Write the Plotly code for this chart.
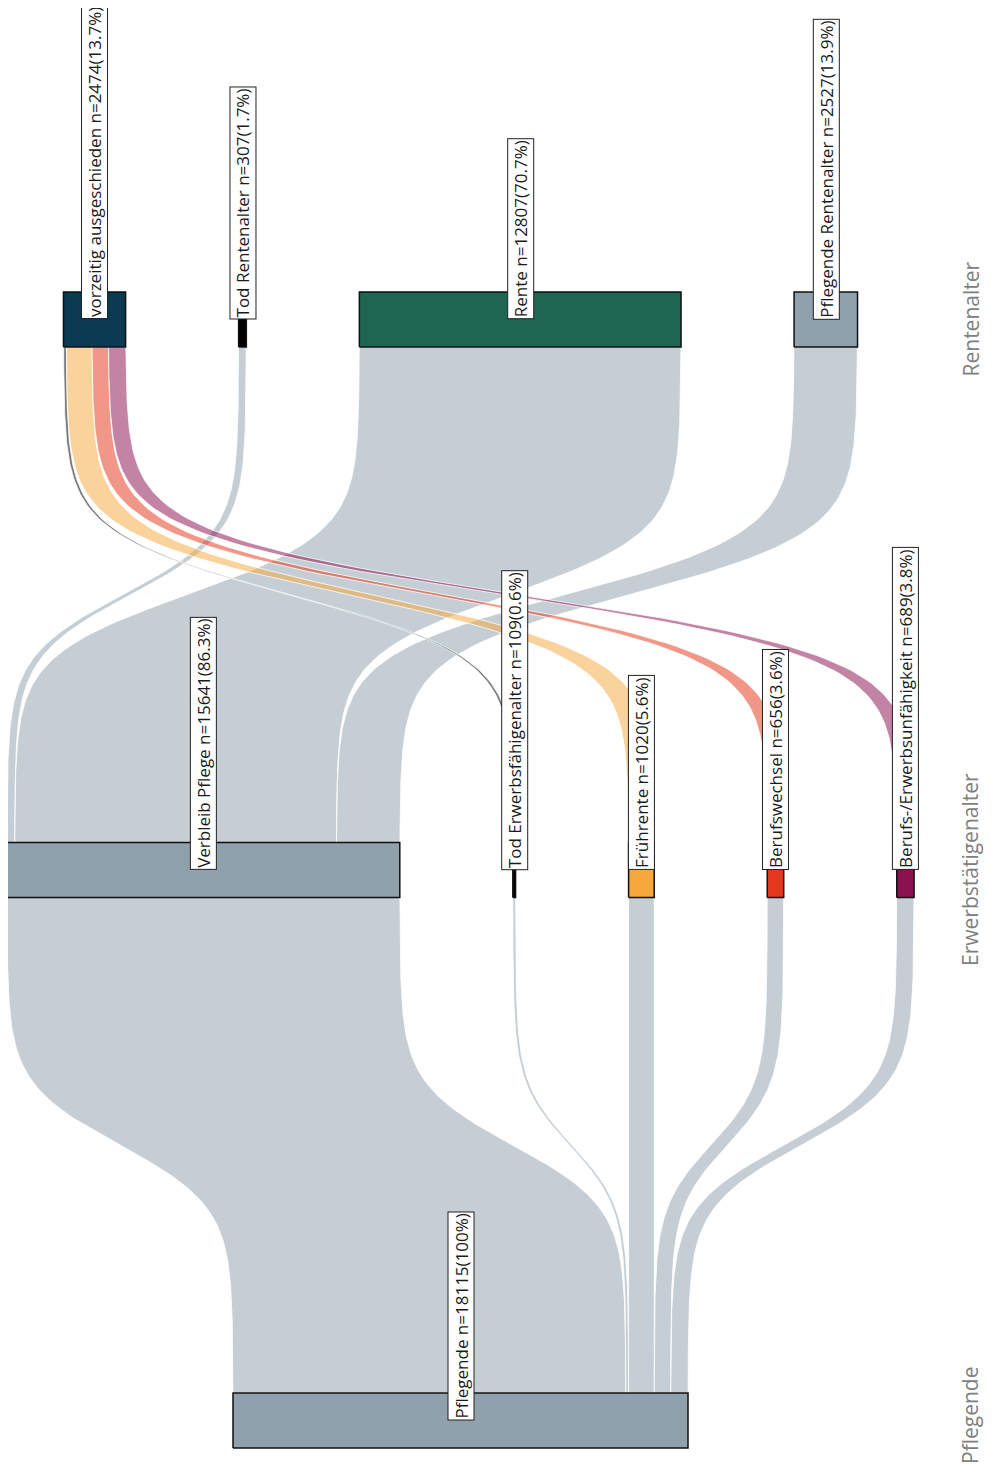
import numpy as np
import plotly.graph_objects as go

# nodes, left to right within each stage (stage 0 = bottom)
NODE_NAMES = [
    "Pflegende",
    "Verbleib Pflege",
    "Tod Erwerbsfähigenalter",
    "Frührente",
    "Berufswechsel",
    "Berufs-/Erwerbsunfähigkeit",
    "vorzeitig ausgeschieden",
    "Tod Rentenalter",
    "Rente",
    "Pflegende Rentenalter",
]
NODE_VALUES = [18115, 15641, 109, 1020, 656, 689, 2474, 307, 12807, 2527]
NODE_STAGE = [0, 1, 1, 1, 1, 1, 2, 2, 2, 2]
NODE_COLORS = [
    "#8fa1ad", "#8fa1ad", "#000000", "#f6a83f", "#e4381b",
    "#8b1250", "#0b3a53", "#000000", "#1f6652", "#8fa1ad",
]

LINK_SOURCE = [0, 0, 0, 0, 0, 1, 1, 1, 2, 3, 4, 5]
LINK_TARGET = [1, 2, 3, 4, 5, 7, 8, 9, 6, 6, 6, 6]
LINK_VALUE = [15641, 109, 1020, 656, 689, 307, 12807, 2527, 109, 1020, 656, 689]

STAGE_NAMES = ["Pflegende", "Erwerbstätigenalter", "Rentenalter"]

# the page body keeps its default 8px margin, so the figure is a bit smaller than the window
WIDTH, HEIGHT = 978, 1460
NODE_GAP = 4500      # gap between nodes, in persons
NODE_HALF = 0.05     # half node thickness, in stage units
FONT = "Open Sans"

CENTER_PX = 452.5    # horizontal centre of every stage
STAGE0_PX = 1412.5   # vertical centre of stage 0
STAGE_PX = 550.5     # distance between stages


def _hex_rgba(color: str, alpha: float) -> str:
    c = color.lstrip("#")
    r, g, b = int(c[0:2], 16), int(c[2:4], 16), int(c[4:6], 16)
    return f"rgba({r},{g},{b},{alpha})"


def _node_positions() -> list[float]:
    left = [0.0] * len(NODE_NAMES)
    for stage in sorted(set(NODE_STAGE)):
        idx = [i for i, s in enumerate(NODE_STAGE) if s == stage]
        total = sum(NODE_VALUES[i] for i in idx) + NODE_GAP * (len(idx) - 1)
        pos = -total / 2
        for i in idx:
            left[i] = pos
            pos += NODE_VALUES[i] + NODE_GAP
    return left


# ggsankey-like sigmoid ribbon
_S = np.linspace(-8, 8, 160)
_L = 1 / (1 + np.exp(-_S))
_T = (_S + 8) / 16


def _ribbon(xa0, xa1, xb0, xb1, ya, yb):
    y = ya + _T * (yb - ya)
    left = xa0 + _L * (xb0 - xa0)
    right = xa1 + _L * (xb1 - xa1)
    xs = np.concatenate([left, right[::-1], left[:1]])
    ys = np.concatenate([y, y[::-1], y[:1]])
    return xs, ys


left = _node_positions()
total = NODE_VALUES[0]

# slots of each link on its source / target node
src_slot = {}
tgt_slot = {}
for node in range(len(NODE_NAMES)):
    out_links = sorted([k for k, s in enumerate(LINK_SOURCE) if s == node], key=lambda k: left[LINK_TARGET[k]])
    pos = left[node]
    for k in out_links:
        src_slot[k] = (pos, pos + LINK_VALUE[k])
        pos += LINK_VALUE[k]
    in_links = sorted([k for k, t in enumerate(LINK_TARGET) if t == node], key=lambda k: left[LINK_SOURCE[k]])
    pos = left[node]
    for k in in_links:
        tgt_slot[k] = (pos, pos + LINK_VALUE[k])
        pos += LINK_VALUE[k]

fig = go.Figure()

for k in range(len(LINK_VALUE)):
    s, t = LINK_SOURCE[k], LINK_TARGET[k]
    xs, ys = _ribbon(
        src_slot[k][0], src_slot[k][1], tgt_slot[k][0], tgt_slot[k][1],
        NODE_STAGE[s] + NODE_HALF, NODE_STAGE[t] - NODE_HALF,
    )
    fig.add_trace(
        go.Scatter(
            x=xs, y=ys, mode="lines", fill="toself",
            fillcolor=_hex_rgba(NODE_COLORS[s], 0.52),
            line={"color": "white", "width": 0.8},
            hoverinfo="skip", showlegend=False,
        )
    )

for i, name in enumerate(NODE_NAMES):
    x0, x1 = left[i], left[i] + NODE_VALUES[i]
    y0, y1 = NODE_STAGE[i] - NODE_HALF, NODE_STAGE[i] + NODE_HALF
    fig.add_trace(
        go.Scatter(
            x=[x0, x1, x1, x0, x0], y=[y0, y0, y1, y1, y0],
            mode="lines", fill="toself", fillcolor=NODE_COLORS[i],
            line={"color": "#111111", "width": 1.5},
            name=name, hoverinfo="name", showlegend=False,
        )
    )
    pct = round(NODE_VALUES[i] / total * 100, 1)
    fig.add_annotation(
        x=(x0 + x1) / 2, y=NODE_STAGE[i],
        text=f"{name} n={NODE_VALUES[i]}({pct:g}%)",
        textangle=-90, xanchor="center", yanchor="bottom",
        showarrow=False, bgcolor="white", bordercolor="#222222",
        borderwidth=1, borderpad=1,
        font={"family": FONT, "size": 17, "color": "#1a1a1a"},
    )

for stage, label in enumerate(STAGE_NAMES):
    fig.add_annotation(
        xref="paper", x=1.0, y=stage, text=label, textangle=-90,
        xanchor="right", yanchor="middle", showarrow=False,
        font={"family": FONT, "size": 21, "color": "#808080"},
    )
# the bottom title sits low; keep it inside the figure
fig.layout.annotations[-3].update(y=-(HEIGHT - 2 - STAGE0_PX) / STAGE_PX, yanchor="bottom")

scale = 455 / total  # px per person
fig.update_layout(
    width=WIDTH, height=HEIGHT,
    margin={"l": 0, "r": 0, "t": 0, "b": 0},
    paper_bgcolor="white", plot_bgcolor="white",
    xaxis={"range": [-CENTER_PX / scale, (WIDTH - CENTER_PX) / scale], "visible": False, "fixedrange": True},
    yaxis={"range": [-(HEIGHT - STAGE0_PX) / STAGE_PX, 2 + (STAGE0_PX - 2 * STAGE_PX) / STAGE_PX],
           "visible": False, "fixedrange": True},
    showlegend=False,
)

fig.write_html("out.html")
